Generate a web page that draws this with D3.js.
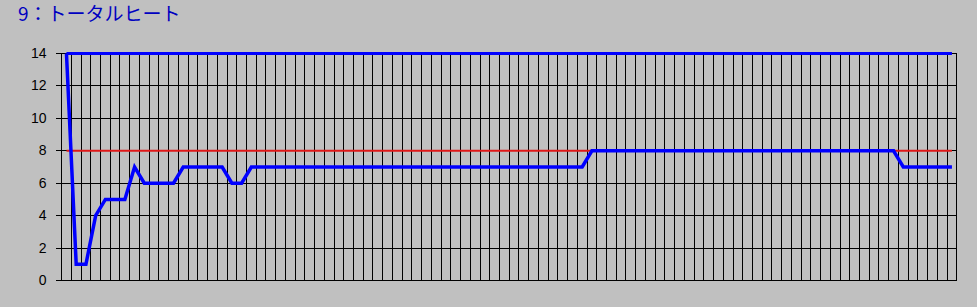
<!DOCTYPE html>
<html lang="ja">
<head>
<meta charset="UTF-8">
<title>トータルヒート</title>
<script src="https://d3js.org/d3.v7.min.js"></script>
<style>
  body { margin: 0; background: #c0c0c0; }
  svg { display: block; }
  .grid line { stroke: #000; stroke-width: 1; shape-rendering: crispEdges; }
  .axis text { font-family: "Liberation Sans", Arial, sans-serif; font-size: 14px; fill: #000; }
  .axis line, .axis path { stroke: #000; shape-rendering: crispEdges; }
</style>
</head>
<body>
<svg id="chart" width="977" height="307"></svg>
<script>
// chart data
const title = "9：トータルヒート";
const yTicks = [0, 2, 4, 6, 8, 10, 12, 14];
const totalHit = [
  14, 1, 1, 4, 5, 5, 5, 7, 6, 6, 6, 6, 7, 7, 7, 7, 7, 6, 6, 7,
  7, 7, 7, 7, 7, 7, 7, 7, 7, 7, 7, 7, 7, 7, 7, 7, 7, 7, 7, 7,
  7, 7, 7, 7, 7, 7, 7, 7, 7, 7, 7, 7, 7, 7, 8, 8, 8, 8, 8, 8,
  8, 8, 8, 8, 8, 8, 8, 8, 8, 8, 8, 8, 8, 8, 8, 8, 8, 8, 8, 8,
  8, 8, 8, 8, 8, 8, 7, 7, 7, 7, 7, 7
];
const upperLine = 14;
const targetLine = 8;
const games = totalHit.map((d, i) => i + 1);

const svg = d3.select("#chart");
const plot = { left: 61.6, right: 956.8, top: 53.5, bottom: 280.5 };

const x = d3.scaleBand().domain(games).range([plot.left, plot.right]).padding(0);
const y = d3.scaleLinear().domain([0, 14]).range([plot.bottom, plot.top]);
const cx = g => x(g) + x.bandwidth() / 2;
const px = v => Math.floor(v) + 0.5;

// title
svg.append("text")
    .attr("x", 18)
    .attr("y", 21)
    .attr("font-family", "'Noto Sans CJK JP', sans-serif")
    .attr("font-size", 19)
    .attr("fill", "#0000c0")
    .text(title);

// grid
const grid = svg.append("g").attr("class", "grid");
grid.selectAll(".h")
    .data(yTicks)
    .join("line")
    .attr("x1", px(plot.left))
    .attr("x2", px(plot.right))
    .attr("y1", d => px(y(d)))
    .attr("y2", d => px(y(d)));

grid.selectAll(".v")
    .data(games.concat(["end"]))
    .join("line")
    .attr("x1", d => px(d === "end" ? plot.right : x(d)))
    .attr("x2", d => px(d === "end" ? plot.right : x(d)))
    .attr("y1", px(plot.top))
    .attr("y2", px(plot.bottom));

// left axis
const yAxis = d3.axisLeft(y)
    .tickValues(yTicks)
    .tickSize(6)
    .tickSizeOuter(0)
    .tickPadding(9);

const ax = svg.append("g")
    .attr("class", "axis")
    .attr("transform", `translate(${px(plot.left)},0)`)
    .call(yAxis);
ax.selectAll(".tick").attr("transform", d => `translate(0,${px(y(d))})`);
ax.select(".domain").remove();

// series
const line = d3.line().x(d => cx(d[0])).y(d => y(d[1]));

svg.append("path")
    .datum(games.map(g => [g, targetLine]))
    .attr("d", line)
    .attr("fill", "none")
    .attr("stroke", "#e01818")
    .attr("stroke-width", 2);

svg.append("path")
    .datum(games.map(g => [g, upperLine]))
    .attr("d", line)
    .attr("fill", "none")
    .attr("stroke", "#0000ff")
    .attr("stroke-width", 3);

svg.append("path")
    .datum(games.map((g, i) => [g, totalHit[i]]))
    .attr("d", line)
    .attr("fill", "none")
    .attr("stroke", "#0000ff")
    .attr("stroke-width", 3.5);
</script>
</body>
</html>
